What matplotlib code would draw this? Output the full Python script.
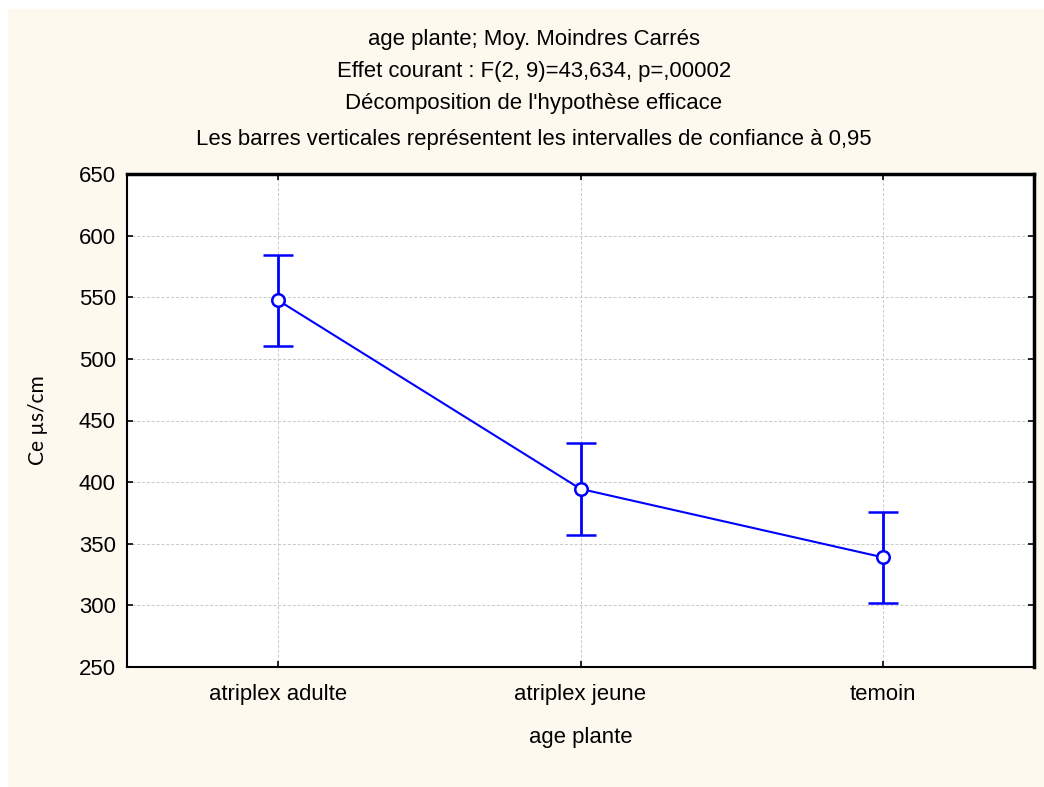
import matplotlib.pyplot as plt
from matplotlib.patches import Rectangle

# Data
categories = ['atriplex adulte', 'atriplex jeune', 'temoin']
means = [547.5, 394.5, 339.0]
ci_half = [37.0, 37.0, 37.0]
yticks = [250, 300, 350, 400, 450, 500, 550, 600, 650]

title_lines = [
    'age plante; Moy. Moindres Carrés',
    'Effet courant : F(2, 9)=43,634, p=,00002',
    "Décomposition de l'hypothèse efficace",
    'Les barres verticales représentent les intervalles de confiance à 0,95',
]

plt.rcParams['font.family'] = ['Liberation Sans', 'DejaVu Sans']
FS = 15.9

W, H = 1044, 787
fig = plt.figure(figsize=(W / 100, H / 100), dpi=100, facecolor='white')

# cream panel behind everything
fig.patches.append(Rectangle((8 / W, 0), 1 - 8 / W, 1 - 9 / H, transform=fig.transFigure,
                             facecolor='#FDF9EE', edgecolor='none', zorder=-10))

ax = fig.add_axes([127 / W, 1 - 667 / H, (1034 - 127) / W, (667 - 174) / H])
ax.set_facecolor('white')

x = list(range(len(categories)))
ax.errorbar(x, means, yerr=ci_half, color='#0000FF', lw=1.5, elinewidth=2,
            capsize=11, capthick=2, marker='o', markersize=9,
            markerfacecolor='white', markeredgecolor='#0000FF', markeredgewidth=1.8,
            zorder=3)

ax.set_xlim(-0.5, len(categories) - 0.5)
ax.set_ylim(250, 650)
ax.set_yticks(yticks)
ax.set_xticks(x)
ax.set_xticklabels(categories)
ax.tick_params(direction='in', length=4, width=1.2, labelsize=FS, top=True, right=True,
               pad=12)
ax.tick_params(axis='y', pad=8)
ax.grid(True, color='#C8C8C8', linestyle=(0, (3, 2)), linewidth=0.7)
ax.set_axisbelow(True)
for s in ax.spines.values():
    s.set_linewidth(1.5)
    s.set_color('black')
ax.spines['right'].set_linewidth(2.5)
ax.spines['top'].set_linewidth(2.5)

ax.set_xlabel('age plante', fontsize=FS, labelpad=16)
fig.text(38 / W, 1 - 420 / H, 'Ce µs/cm', rotation=90, fontsize=15,
         family=['Lato', 'DejaVu Sans'], ha='center', va='center')

for line, yp in zip(title_lines, [40, 72, 104, 140]):
    fig.text(534 / W, 1 - yp / H, line, fontsize=FS, ha='center', va='center')

fig.savefig('out.png', dpi=100, facecolor=fig.get_facecolor())
